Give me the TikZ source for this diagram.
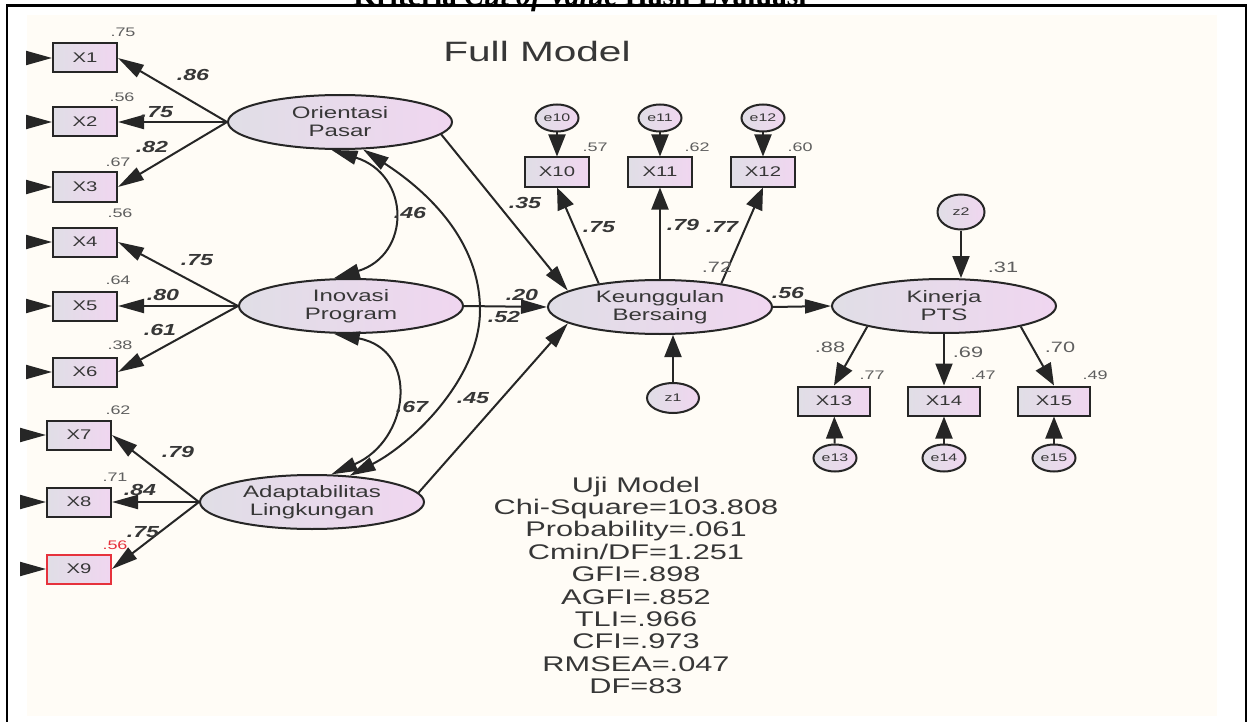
\documentclass[tikz,border=0pt]{standalone}
\usepackage{fontspec}
\setmainfont{Liberation Serif}
\newfontfamily\amos[FakeStretch=1.45]{Liberation Sans}
\usetikzlibrary{shapes.geometric,arrows.meta}
\definecolor{cream}{RGB}{255,252,246}
\definecolor{lavL}{RGB}{224,222,230}
\definecolor{lavR}{RGB}{240,214,240}
\definecolor{ink}{RGB}{55,55,55}
\definecolor{numgray}{RGB}{95,95,95}
\definecolor{fitred}{RGB}{230,50,60}
\tikzset{
  x=0.5pt, y=-0.5pt,
  >={Triangle[length=13pt,width=7pt]},
  latent/.style={ellipse,draw=black!85,line width=1pt,left color=lavL,right color=lavR,
    minimum width=112pt,minimum height=27pt,inner sep=0pt,align=center,text=ink,
    font=\amos\fontsize{8.3}{9}\selectfont},
  obsbox/.style={rectangle,draw=black!85,line width=1pt,left color=lavL,right color=lavR,
    minimum width=32pt,minimum height=14.5pt,inner sep=0pt,text=ink,
    font=\amos\fontsize{7}{8}\selectfont},
  errc/.style={ellipse,draw=black!85,line width=1pt,left color=lavL,right color=lavR,
    minimum width=21.5pt,minimum height=13.5pt,inner sep=0pt,text=ink,
    font=\amos\fontsize{5.5}{6}\selectfont},
  pth/.style={->,line width=1pt,black!85},
  vpth/.style={-{Triangle[length=11pt,width=8.5pt]},line width=1pt,black!85},
  cov/.style={<->,line width=1pt,black!85},
  coef/.style={font=\amos\bfseries\itshape\fontsize{8}{9}\selectfont,text=ink,inner sep=0pt},
  varlbl/.style={font=\amos\fontsize{6.2}{7}\selectfont,text=numgray,inner sep=0pt},
  ldlbl/.style={font=\amos\fontsize{7.5}{8}\selectfont,text=numgray,inner sep=0pt},
  fitlbl/.style={font=\amos\fontsize{10.6}{11}\selectfont,text=ink,inner sep=0pt,anchor=base},
}

\begin{document}
\begin{tikzpicture}
  \useasboundingbox (0,0) rectangle (1248,722);
  \fill[cream] (27,15) rectangle (1217,716);
  \node[anchor=base,inner sep=0pt,font=\bfseries\fontsize{14.8}{16}\selectfont] (title)
    at (580,5.5) {Kriteria \textit{Cut of Value} Hasil Evaluasi};
  \draw[line width=1.1pt] (7,722) -- (7,5.5) -- (1246,5.5) -- (1246,722);
  \node[anchor=base,inner sep=0pt,text=ink,font=\amos\fontsize{14}{16}\selectfont] (full)
    at (537,62) {Full Model};

  % latent variables
  \node[latent] (OP) at (340,122) {Orientasi\\Pasar};
  \node[latent] (IP) at (351,306) {Inovasi\\Program};
  \node[latent] (AL) at (312,502) {Adaptabilitas\\Lingkungan};
  \node[latent] (KB) at (660,307) {Keunggulan\\Bersaing};
  \node[latent] (KP) at (944,306) {Kinerja\\PTS};

  % indicators
  \node[obsbox] (X1) at (85,58) {X1};
  \node[obsbox] (X2) at (85,122) {X2};
  \node[obsbox] (X3) at (85,187) {X3};
  \node[obsbox] (X4) at (85,242) {X4};
  \node[obsbox] (X5) at (85,306) {X5};
  \node[obsbox] (X6) at (85,372) {X6};
  \node[obsbox] (X7) at (79,435) {X7};
  \node[obsbox] (X8) at (79,502) {X8};
  \node[obsbox,draw=fitred] (X9) at (79,569) {X9};
  \node[obsbox] (X10) at (557,172) {X10};
  \node[obsbox] (X11) at (660,172) {X11};
  \node[obsbox] (X12) at (763,172) {X12};
  \node[obsbox,minimum width=36pt] (X13) at (834,401) {X13};
  \node[obsbox,minimum width=36pt] (X14) at (944,401) {X14};
  \node[obsbox,minimum width=36pt] (X15) at (1054,401) {X15};

  % error terms
  \node[errc] (e10) at (557,118) {e10};
  \node[errc] (e11) at (660,118) {e11};
  \node[errc] (e12) at (763,118) {e12};
  \node[errc] (e13) at (835,458) {e13};
  \node[errc] (e14) at (944,458) {e14};
  \node[errc] (e15) at (1054,458) {e15};
  \node[errc,minimum width=26pt,minimum height=15pt] (z1) at (673,398) {z1};
  \node[errc,minimum width=23.5pt,minimum height=17.5pt] (z2) at (961,212) {z2};

  \foreach \b/\yy in {1/58,2/122,3/187,4/242,5/306,6/372,7/435,8/502,9/569}{
    \coordinate (s\b) at (27,\yy);
    \draw[pth] (s\b) -- (X\b.west);
  }
  \foreach \b in {1,2,3} \draw[pth] (OP.west) -- (X\b.east);
  \foreach \b in {4,5,6} \draw[pth] (IP.west) -- (X\b.east);
  \foreach \b in {7,8,9} \draw[pth] (AL.west) -- (X\b.east);

  \draw[pth] (OP.-7) -- (KB.170);
  \draw[pth] (IP.east) -- (KB.west);
  \draw[pth] (AL.5) -- (KB.190);
  \draw[pth] (KB.east) -- (KP.west);
  \draw[vpth] (KB.159) -- (X10.south);
  \draw[vpth] (KB.north) -- (X11.south);
  \draw[vpth] (KB.21) -- (X12.south);
  \draw[vpth] (KP.-165) -- (X13.north);
  \draw[vpth] (KP.south) -- (X14.north);
  \draw[vpth] (KP.-15) -- (X15.north);
  \foreach \e in {10,11,12,13,14,15} \draw[vpth] (e\e) -- (X\e);
  \draw[vpth] (z1) -- (z1 |- KB.south);
  \draw[vpth] (z2) -- (z2 |- KP.north);

  % covariances
  \draw[cov] (OP.-107) .. controls (411,175) and (411,255) .. (IP.122);
  \draw[cov] (IP.-122) .. controls (420,350) and (410,440) .. (AL.55);
  \draw[cov] (OP.-50) .. controls (410,180) and (480,230) .. (480,310)
    .. controls (480,380) and (410,445) .. (AL.35);

  % estimates
  \node[coef] (c1) at (193,75) {.86};
  \node[coef] (c2) at (157,112) {.75};
  \node[coef] (c3) at (152,147) {.82};
  \node[coef] (c4) at (197,260) {.75};
  \node[coef] (c5) at (163,295) {.80};
  \node[coef] (c6) at (160,330) {.61};
  \node[coef] (c7) at (178,452) {.79};
  \node[coef] (c8) at (140,490) {.84};
  \node[coef] (c9) at (143,532) {.75};
  \node[coef] (r1) at (410,213) {.46};
  \node[coef] (r2) at (412,407) {.67};
  \node[coef] (r3) at (504,317) {.52};
  \node[coef] (g1) at (525,203) {.35};
  \node[coef] (g2) at (522,295) {.20};
  \node[coef] (g3) at (473,398) {.45};
  \node[coef] (c10) at (599,227) {.75};
  \node[coef] (c11) at (683,225) {.79};
  \node[coef] (c12) at (722,227) {.77};
  \node[coef] (b1) at (788,293) {.56};

  \node[varlbl] (v1) at (123,32) {.75};
  \node[varlbl] (v2) at (122,97) {.56};
  \node[varlbl] (v3) at (118,162) {.67};
  \node[varlbl] (v4) at (120,213) {.56};
  \node[varlbl] (v5) at (118,280) {.64};
  \node[varlbl] (v6) at (120,345) {.38};
  \node[varlbl] (v7) at (118,410) {.62};
  \node[varlbl] (v8) at (115,477) {.71};
  \node[varlbl,text=fitred] (v9) at (115,545) {.56};
  \node[varlbl] (v10) at (595,147) {.57};
  \node[varlbl] (v11) at (697,147) {.62};
  \node[varlbl] (v12) at (800,147) {.60};
  \node[varlbl] (v13) at (872,375) {.77};
  \node[varlbl] (v14) at (983,375) {.47};
  \node[varlbl] (v15) at (1095,375) {.49};
  \node[ldlbl] (rKB) at (717,267) {.72};
  \node[ldlbl] (rKP) at (1003,267) {.31};
  \node[ldlbl] (c13) at (830,347) {.88};
  \node[ldlbl] (c14) at (968,352) {.69};
  \node[ldlbl] (c15) at (1060,347) {.70};

  % fit indices
  \foreach \t [count=\i] in {Uji Model,Chi-Square=103.808,Probability=.061,Cmin/DF=1.251,
      GFI=.898,AGFI=.852,TLI=.966,CFI=.973,RMSEA=.047,DF=83}
    \node[fitlbl] (fit\i) at (636,{492+22.4*(\i-1)}) {\t};
\end{tikzpicture}
\end{document}
